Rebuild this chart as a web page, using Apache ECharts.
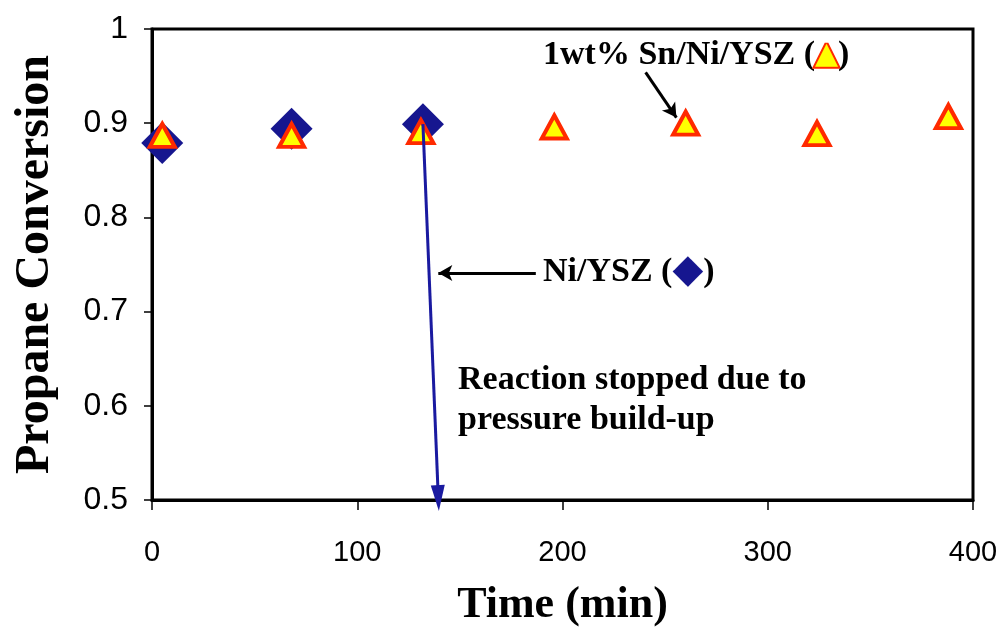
<!DOCTYPE html>
<html>
<head>
<meta charset="utf-8">
<script src="https://cdn.jsdelivr.net/npm/echarts@6/dist/echarts.min.js"></script>
<style>html,body{margin:0;padding:0;background:#fff}#c{width:1006px;height:638px}</style>
</head>
<body>
<div id="c"></div>
<script>
// Data
const snTime = [5, 68, 131, 196, 260, 324, 388];
const snConv = [0.887, 0.887, 0.891, 0.896, 0.900, 0.889, 0.907];
const niTime = [5, 68, 132];
const niConv = [0.879, 0.894, 0.899];
const xTicks = [0, 100, 200, 300, 400];
const yTicks = [0.5, 0.6, 0.7, 0.8, 0.9, 1];
// annotation arrows (data coordinates)
const stopLine = [[132, 0.899], [139.5, 0.502]];
const niArrow = [[187, 0.741], [139.5, 0.741]];
const snArrow = [[240.5, 0.954], [255.5, 0.906]];

const chart = echarts.init(document.getElementById('c'), null, {renderer: 'canvas'});
const serif = 'Liberation Serif';
const sans = 'Liberation Sans';
chart.setOption({
  animation: false,
  backgroundColor: '#fff',
  grid: {left: 152, right: 33, top: 29, bottom: 138, show: true, borderColor: '#000', borderWidth: 3, backgroundColor: 'transparent'},
  xAxis: {
    type: 'value', min: xTicks[0], max: xTicks[xTicks.length - 1], interval: 100,
    name: 'Time (min)', nameLocation: 'middle', nameGap: 84,
    nameTextStyle: {fontFamily: serif, fontWeight: 'bold', fontSize: 44, color: '#000'},
    axisLine: {lineStyle: {color: '#000', width: 3}},
    axisTick: {show: true, inside: false, length: 10, lineStyle: {color: '#000', width: 1.5}},
    axisLabel: {margin: 38, fontFamily: sans, fontSize: 29, color: '#000'},
    splitLine: {show: false}
  },
  yAxis: {
    type: 'value', min: yTicks[0], max: yTicks[yTicks.length - 1], interval: 0.1,
    name: 'Propane Conversion', nameLocation: 'middle', nameGap: 92,
    nameTextStyle: {fontFamily: serif, fontWeight: 'bold', fontSize: 48, color: '#000'},
    axisLine: {lineStyle: {color: '#000', width: 3}},
    axisTick: {show: true, inside: false, length: 8, lineStyle: {color: '#000', width: 1.5}},
    axisLabel: {margin: 24, fontFamily: sans, fontSize: 32, color: '#000',
      formatter: v => (Math.round(v * 10) / 10).toString()},
    splitLine: {show: false}
  },
  series: [
    {
      name: 'Ni/YSZ', type: 'scatter',
      data: niTime.map((t, i) => [t, niConv[i]]),
      symbol: 'diamond', symbolSize: [42, 42],
      itemStyle: {color: '#16168f', opacity: 1},
      emphasis: {disabled: true},
      z: 2
    },
    {
      name: 'stop', type: 'line', data: [], z: 4,
      markLine: {
        silent: true, animation: false,
        label: {show: false},
        data: [
          [{coord: stopLine[0], symbol: 'none'}, {coord: stopLine[1], symbol: 'triangle', symbolSize: [14, 26], lineStyle: {color: '#1a1aa0', width: 3, type: 'solid'}}],
          [{coord: niArrow[0], symbol: 'none'}, {coord: niArrow[1], symbol: 'arrow', symbolSize: [12, 14], lineStyle: {color: '#000', width: 3, type: 'solid'}}],
          [{coord: snArrow[0], symbol: 'none'}, {coord: snArrow[1], symbol: 'arrow', symbolSize: [12, 14], lineStyle: {color: '#000', width: 3, type: 'solid'}}]
        ],
        lineStyle: {type: 'solid', width: 3, color: '#000'},
        emphasis: {disabled: true}
      }
    },
    {
      name: '1wt% Sn/Ni/YSZ', type: 'scatter',
      data: snTime.map((t, i) => [t, snConv[i]]),
      symbol: 'triangle', symbolSize: [25, 23],
      itemStyle: {color: '#ffff00', borderColor: '#ff2a00', borderWidth: 4, opacity: 1},
      emphasis: {disabled: true},
      z: 3
    }
  ],
  graphic: [
    {type: 'text', left: 543, top: 38, z: 10, style: {
      text: '1wt% Sn/Ni/YSZ ({t|▲})',
      font: 'bold 34px ' + serif, fill: '#000',
      rich: {t: {fontFamily: 'DejaVu Sans', fontSize: 30, fill: '#ffff00', stroke: '#ff2a00', lineWidth: 4}}
    }},
    {type: 'text', left: 543, top: 252, z: 10, style: {
      text: 'Ni/YSZ ({d|◆})',
      font: 'bold 34px ' + serif, fill: '#000',
      rich: {d: {fontFamily: 'DejaVu Sans', fontSize: 40, fill: '#16168f'}}
    }},
    {type: 'text', left: 458, top: 360, z: 10, style: {
      text: 'Reaction stopped due to\npressure build-up',
      font: 'bold 34px ' + serif, fill: '#000', lineHeight: 40
    }}
  ]
});
</script>
</body>
</html>
